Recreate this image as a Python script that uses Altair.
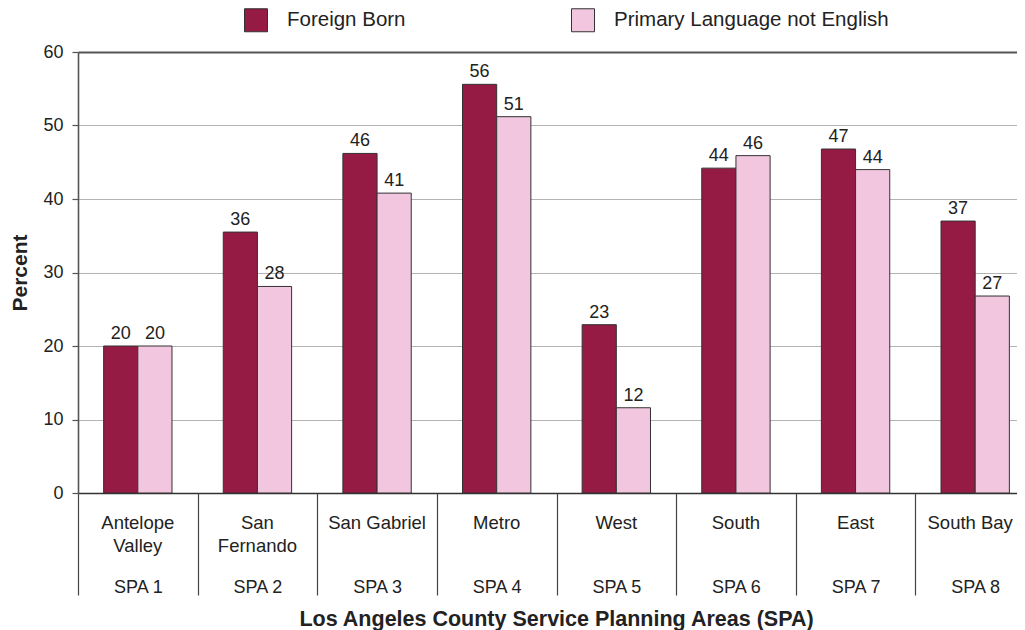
import altair as alt
import pandas as pd

# ---- data ----
area_lines = [["Antelope", "Valley"], ["San", "Fernando"], ["San Gabriel"], ["Metro"],
              ["West"], ["South"], ["East"], ["South Bay"]]
spa_labels = ["SPA 1", "SPA 2", "SPA 3", "SPA 4", "SPA 5", "SPA 6", "SPA 7", "SPA 8"]
series_names = ["Foreign Born", "Primary Language not English"]
foreign_born = [20.0, 35.5, 46.2, 55.6, 22.9, 44.2, 46.8, 37.0]
primary_lang = [20.0, 28.1, 40.8, 51.2, 11.6, 45.9, 44.0, 26.8]
y_ticks = [0, 10, 20, 30, 40, 50, 60]
colors = ["#951A44", "#F2C6DF"]

FONT = "Liberation Sans"

keys = ["~".join(lines) + "|" + spa for lines, spa in zip(area_lines, spa_labels)]
rows = []
for k, fb, pl in zip(keys, foreign_born, primary_lang):
    rows.append({"key": k, "series": series_names[0], "value": fb})
    rows.append({"key": k, "series": series_names[1], "value": pl})
df = pd.DataFrame(rows)

x_scale = alt.Scale(range=[0, 957], paddingInner=0, paddingOuter=0)
xoff_scale = alt.Scale(paddingInner=0, paddingOuter=0.75)

y_enc = alt.Y(
    "value:Q",
    scale=alt.Scale(domain=[0, 60], nice=False),
    axis=alt.Axis(
        values=y_ticks,
        title="Percent",
        titleFontSize=21,
        titleFontWeight="bold",
        titleColor="#222",
        titlePadding=12,
        labelFontSize=18,
        labelColor="#222",
        labelPadding=9,
        tickSize=6,
        tickColor="#555",
        tickWidth=1.2,
        domainColor="#555",
        domainWidth=1.6,
        grid=True,
        gridColor={"condition": {"test": "datum.value === 60", "value": "#555"}, "value": "#b4b4b4"},
        gridWidth={"condition": {"test": "datum.value === 60", "value": 2}, "value": 1},
    ),
)

name_axis = alt.Axis(
    orient="bottom",
    title=None,
    labelExpr="split(split(datum.label, '|')[0], '~')",
    ticks=False,
    domain=True,
    domainColor="#333",
    domainWidth=1.6,
    labelFontSize=18.5,
    labelLineHeight=23,
    labelPadding=20,
    labelAngle=0,
    labelColor="#222",
    labelBaseline="top",
    labelOffset={"condition": {"test": "indexof(datum.value, 'South Bay') >= 0", "value": -5}, "value": 0},
    grid=False,
)

spa_axis = alt.Axis(
    orient="bottom",
    title="Los Angeles County Service Planning Areas (SPA)",
    titleFontSize=21.5,
    titleFontWeight="bold",
    titleColor="#222",
    titlePadding=12,
    titleX=478,
    labelExpr="split(datum.label, '|')[1]",
    ticks=True,
    tickBand="extent",
    tickSize=102,
    tickColor="#444",
    tickWidth=1.2,
    domain=False,
    labelPadding=-17,
    labelFontSize=18,
    labelAngle=0,
    labelColor="#222",
    labelBaseline="top",
    grid=False,
)

bars = alt.Chart(df).mark_bar(stroke="#333", strokeWidth=1).encode(
    x=alt.X("key:N", sort=keys, scale=x_scale, axis=name_axis),
    xOffset=alt.XOffset("series:N", sort=series_names, scale=xoff_scale),
    y=y_enc,
    color=alt.Color(
        "series:N",
        scale=alt.Scale(domain=series_names, range=colors),
        legend=alt.Legend(
            title=None,
            orient="none",
            legendX=166,
            legendY=-44,
            direction="horizontal",
            symbolType="square",
            symbolSize=529,
            symbolStrokeColor="#333",
            symbolStrokeWidth=1,
            symbolOpacity=1,
            labelFontSize=20.5,
            labelColor="#222",
            labelOffset=19,
            columnPadding=163,
            labelLimit=400,
        ),
    ),
)

labels = alt.Chart(df).mark_text(dy=-7, fontSize=18, color="#222", baseline="alphabetic").encode(
    x=alt.X("key:N", sort=keys, scale=x_scale, axis=spa_axis),
    xOffset=alt.XOffset("series:N", sort=series_names, scale=xoff_scale),
    y=y_enc,
    text=alt.Text("value:Q", format=".0f"),
)

chart = (
    alt.layer(bars, labels)
    .resolve_axis(x="independent")
    .properties(
        width=939,
        height=441,
        padding={"left": 70, "top": 44, "right": 0, "bottom": 137},
        autosize=alt.AutoSizeParams(type="none"),
    )
    .configure(font=FONT)
    .configure_view(strokeWidth=0)
)

chart.save("out.html", embed_options={"renderer": "svg", "actions": False})
